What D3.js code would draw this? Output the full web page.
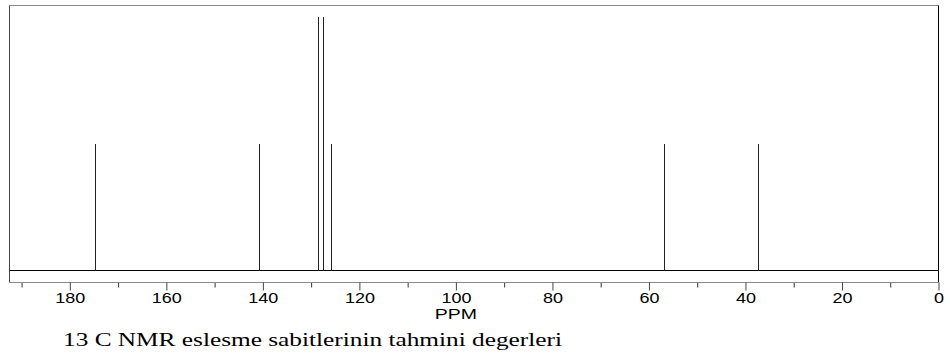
<!DOCTYPE html>
<html>
<head>
<meta charset="utf-8">
<script src="https://cdn.jsdelivr.net/npm/d3@7"></script>
<style>
  body { margin: 0; background: #fff; }
  svg { display: block; }
</style>
</head>
<body>
<div id="nmr"></div>
<script>
// peak data (ppm, relative height)
const peakShifts = [174.7, 140.7, 128.5, 127.6, 125.8, 56.8, 37.5];
const peakHeights = [0.5, 0.5, 1.0, 1.0, 0.5, 0.5, 0.5];
const majorTicks = [180, 160, 140, 120, 100, 80, 60, 40, 20, 0];
const minorTicks = [190, 170, 150, 130, 110, 90, 70, 50, 30, 10];
const xLabel = 'PPM';
const caption = '13 C NMR eslesme sabitlerinin tahmini degerleri';

const W = 950, H = 354;
const FRAME = {left: 9.5, right: 938.5, top: 5.5, base: 270.5, axis: 282.5};

const svg = d3.select('#nmr').append('svg')
    .attr('width', W)
    .attr('height', H);

// ppm runs right to left
const xScale = d3.scaleLinear()
    .domain([192.5, 0])
    .range([FRAME.left, FRAME.right]);
const yScale = d3.scaleLinear()
    .domain([0, 1])
    .range([FRAME.base, 17]);

// frame
svg.append('line')
    .attr('x1', FRAME.left).attr('x2', FRAME.right)
    .attr('y1', FRAME.top).attr('y2', FRAME.top)
    .attr('stroke', '#888').attr('stroke-width', 1);
svg.append('line')
    .attr('x1', FRAME.left).attr('x2', FRAME.left)
    .attr('y1', FRAME.top).attr('y2', FRAME.axis)
    .attr('stroke', '#444').attr('stroke-width', 1);
svg.append('line')
    .attr('x1', FRAME.right).attr('x2', FRAME.right)
    .attr('y1', FRAME.top).attr('y2', FRAME.axis)
    .attr('stroke', '#000').attr('stroke-width', 1);
// baseline
svg.append('line')
    .attr('x1', FRAME.left).attr('x2', FRAME.right)
    .attr('y1', FRAME.base).attr('y2', FRAME.base)
    .attr('stroke', '#000').attr('stroke-width', 1);

// peaks
svg.append('g')
    .selectAll('line')
    .data(peakShifts)
    .join('line')
    .attr('x1', d => Math.round(xScale(d)) + 0.5)
    .attr('x2', d => Math.round(xScale(d)) + 0.5)
    .attr('y1', yScale(0))
    .attr('y2', (d, i) => Math.round(yScale(peakHeights[i])))
    .attr('stroke', '#222')
    .attr('stroke-width', 1);

// axes
const axisG = svg.append('g')
    .attr('transform', `translate(0, ${FRAME.axis})`);

axisG.append('g')
    .call(d3.axisBottom(xScale)
        .tickValues(minorTicks)
        .tickSize(5)
        .tickSizeOuter(0)
        .tickFormat(''))
    .call(g => g.select('.domain').remove())
    .call(g => g.selectAll('.tick line').attr('stroke', '#333'));

axisG.append('g')
    .call(d3.axisBottom(xScale)
        .tickValues(majorTicks)
        .tickSize(8)
        .tickSizeOuter(0)
        .tickPadding(2))
    .call(g => g.select('.domain')
        .attr('stroke', '#888')
        .attr('d', `M${FRAME.left},0H${FRAME.right}`))
    .call(g => g.selectAll('.tick line').attr('stroke', '#444'))
    .call(g => g.selectAll('.tick text')
        .attr('font-family', 'Liberation Sans, Arial, sans-serif')
        .attr('font-size', 15)
        .attr('fill', '#000')
        .attr('transform', 'scale(1.2,1)'));

// axis title
svg.append('text')
    .attr('transform', `translate(${xScale(100)}, 319) scale(1.3,1)`)
    .attr('text-anchor', 'middle')
    .attr('font-family', 'Liberation Sans, Arial, sans-serif')
    .attr('font-size', 15)
    .text(xLabel);

// caption
svg.append('text')
    .attr('x', 63)
    .attr('y', 346)
    .attr('font-family', 'Liberation Serif, Times New Roman, serif')
    .attr('font-size', 19)
    .attr('textLength', 499)
    .attr('lengthAdjust', 'spacingAndGlyphs')
    .text(caption);
</script>
</body>
</html>
